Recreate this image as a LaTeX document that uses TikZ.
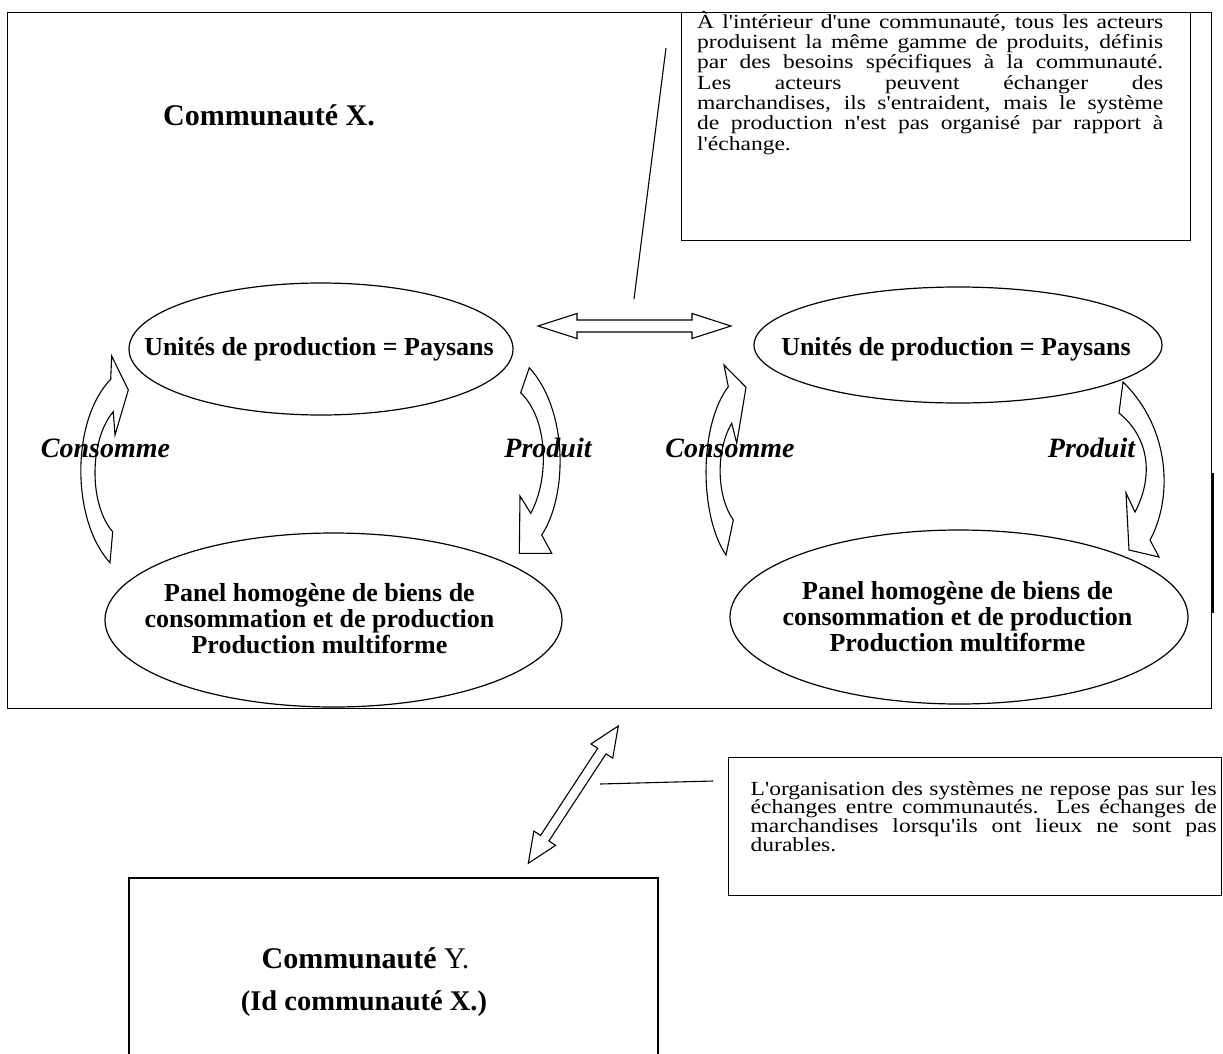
\documentclass[tikz,border=0pt]{standalone}
\usepackage{fontspec}
\setmainfont{Liberation Serif}[Ligatures=TeXOff]
\newfontfamily\notefont{Liberation Serif}[FakeStretch=1.175, Ligatures=TeXOff]
\usetikzlibrary{shapes.geometric}

\begin{document}
\begin{tikzpicture}[
          x=1pt, y=-1pt,
          frame/.style={draw, line width=1.3pt, inner sep=0pt, anchor=north west},
          oval/.style={ellipse, draw, line width=1.2pt, inner sep=0pt},
          blockarrow/.style={draw, line width=1.1pt, line join=miter},
          pointer/.style={draw, line width=1.1pt},
          ovaltext/.style={font={\bfseries\fontsize{26}{26.3}\selectfont\lineskiplimit=-50pt},
            align=center, inner sep=0pt, anchor=north},
          verb/.style={font={\bfseries\itshape\fontsize{28}{28}\selectfont}, inner sep=0pt, anchor=base},
          title/.style={font={\bfseries\fontsize{30}{30}\selectfont}, inner sep=0pt, anchor=base},
          notetext/.style={font={\notefont\fontsize{20}{20.3}\selectfont\lineskiplimit=-50pt},
            align=left, inner sep=0pt, anchor=north west},
        ]
        \path[fill=white, use as bounding box] (0,0) rectangle (1223,1054);
        \node[frame, minimum width=1204pt, minimum height=696pt] (commX) at (7,12) {} ;
        \node[frame, minimum width=509pt, minimum height=228pt] (noteIn) at (681,12) {} ;
        \node[frame, minimum width=493pt, minimum height=138pt] (noteOut) at (728,757) {} ;
        \draw[frame] (129,1060) |- (658,878) -- (658,1060) ;
        \draw[line width=2.5pt] (1213,473) -- (1213,613) ;
        \node[title] (titleX) at (269,126) {Communauté X.} ;
        \node[title] (titleY) at (365.5,968) {Communauté \mdseries Y.} ;
        \node[title, font={\bfseries\fontsize{28.5}{28.5}\selectfont}] (idX) at (364,1010) {(Id communauté X.)} ;
        \node[oval, minimum width=384pt, minimum height=132pt] (prodL) at (321,349) {} ;
        \node[oval, minimum width=408pt, minimum height=116pt] (prodR) at (958,345) {} ;
        \node[oval, minimum width=457pt, minimum height=174pt] (goodsL) at (333.5,620) {} ;
        \node[oval, minimum width=458pt, minimum height=174pt] (goodsR) at (959,617) {} ;
        \node[ovaltext] (prodLtxt) at (319,337) {\rule{0pt}{18pt}Unités de production = Paysans} ;
        \node[ovaltext] (prodRtxt) at (956,337) {\rule{0pt}{18pt}Unités de production = Paysans} ;
        \node[ovaltext] (goodsLtxt) at (319.5,583) {\rule{0pt}{18pt}Panel homogène de biens de\\
          consommation et de production\\Production multiforme} ;
        \node[ovaltext] (goodsRtxt) at (957.5,581) {\rule{0pt}{18pt}Panel homogène de biens de\\
          consommation et de production\\Production multiforme} ;
        \node[verb] (consL) at (105.5,457) {Consomme} ;
        \node[verb] (prodLverb) at (548,457) {Produit} ;
        \node[verb] (consR) at (730,457) {Consomme} ;
        \node[verb] (prodRverb) at (1091.5,457) {Produit} ;
        \node[notetext] (noteInTxt) at (697,10) {%
          \makebox[466pt][s]{\rule{0pt}{18pt}À l'intérieur d'une communauté, tous les acteurs}\\
          \makebox[466pt][s]{produisent la même gamme de produits, définis}\\
          \makebox[466pt][s]{par des besoins spécifiques à la communauté.}\\
          \makebox[466pt][s]{Les acteurs peuvent échanger des}\\
          \makebox[466pt][s]{marchandises, ils s'entraident, mais le système}\\
          \makebox[466pt][s]{de production n'est pas organisé par rapport à}\\
          l'échange.} ;
        \node[notetext, font={\notefont\fontsize{20}{18.6}\selectfont\lineskiplimit=-50pt}] (noteOutTxt) at (750.5,777) {%
          \makebox[466pt][s]{\rule{0pt}{18pt}L'organisation des systèmes ne repose pas sur les}\\
          \makebox[466pt][s]{échanges entre communautés. Les échanges de}\\
          \makebox[466pt][s]{marchandises lorsqu'ils ont lieux ne sont pas}\\
          durables.} ;
        \draw[blockarrow] (111.7,356) -- (128.3,390) -- (115,435) -- (113.3,411.7)
          .. controls (89,440) and (89,505) .. (112.7,531.7) -- (110,562.7)
          .. controls (71,520) and (71,420) .. (110.7,379.3) -- cycle ;
        \draw[blockarrow] (529.3,367.7) .. controls (568,410) and (568,495) .. (541.7,535)
          -- (551.7,553.3) -- (519.3,553.3) -- (520,496) -- (530.7,513.3)
          .. controls (549,480) and (549,420) .. (520.7,392.7) -- cycle ;
        \draw[blockarrow] (724,365) -- (746,387.3) -- (736.7,443.3) -- (731.7,423.3)
          .. controls (716,450) and (716,495) .. (733.3,520) -- (726,555)
          .. controls (699,515) and (699,425) .. (728.3,386.7) -- cycle ;
        \draw[blockarrow] (1123,382) .. controls (1172,430) and (1172,500) .. (1150,540)
          -- (1159,557) -- (1129,550) -- (1126,493) -- (1135,512)
          .. controls (1152,480) and (1152,440) .. (1119,413) -- cycle ;
        \draw[blockarrow] (538,326) -- (577,313.5) -- (577,320) -- (692,320) -- (692,313.5)
          -- (731,326) -- (692,338.5) -- (692,332) -- (577,332) -- (577,338.5) -- cycle ;
        \begin{scope}[shift={(528.3,863.3)}, rotate=56.76]
          \draw[blockarrow] (0,0) -- (30,13) -- (30,5) -- (134.2,5) -- (134.2,13) -- (164.2,0)
            -- (134.2,-13) -- (134.2,-5) -- (30,-5) -- (30,-13) -- cycle ;
        \end{scope}
        \coordinate (ptrInA) at (666,48) ;
        \coordinate (ptrInB) at (634,299) ;
        \coordinate (ptrOutA) at (713,781) ;
        \coordinate (ptrOutB) at (600,784) ;
        \draw[pointer] (ptrInA) -- (ptrInB) ;
        \draw[pointer] (ptrOutA) -- (ptrOutB) ;
        \end{tikzpicture}
\end{document}
